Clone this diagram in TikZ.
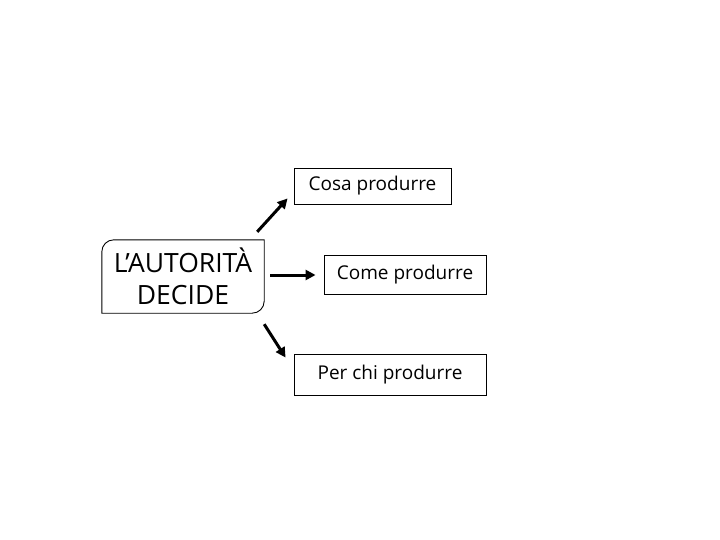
\documentclass[tikz,border=0pt]{standalone}
\usepackage{fontspec}
\setmainfont{Open Sans}
\usetikzlibrary{arrows.meta}
\begin{document}
\begin{tikzpicture}[x=1pt,y=-1pt,
  box/.style={draw=black,line width=0.9pt,inner sep=0pt,font=\fontsize{19}{22}\selectfont},
  arr/.style={line width=3pt,-{Triangle[length=10pt,width=10pt]}}]
\useasboundingbox (0,0) rectangle (720,540);
\node[inner sep=0pt,minimum width=162pt,minimum height=73pt,align=center,
  font=\fontsize{26.5}{32}\selectfont] (main) at (183,276.5) {L’AUTORITÀ\\DECIDE};
\draw[line width=0.9pt] (main.south west) [rounded corners=12pt] -- (main.north west) -- ([xshift=30pt]main.north west) [sharp corners] -- (main.north east) -- ([yshift=30pt]main.south east) [rounded corners=12pt] -- (main.south east) -- ([xshift=-30pt]main.south east) [sharp corners] -- cycle;
\node[box,minimum width=157pt,minimum height=36pt] (cosa) at (372.5,186) {Cosa produrre};
\node[box,minimum width=162pt,minimum height=39pt] (come) at (405,274.5) {Come produrre};
\node[box,minimum width=192pt,minimum height=41pt] (per) at (390,374.5) {Per chi produrre};
\draw[arr] ([shift={(-7,-8)}]main.north east) -- ([shift={(-6,-6)}]cosa.south west);
\draw[arr] ([shift={(6,-1.5)}]main.east) -- ([shift={(-8,0.5)}]come.west);
\draw[arr] ([shift={(0,11)}]main.south east) -- ([shift={(-8,4)}]per.north west);
\end{tikzpicture}
\end{document}
